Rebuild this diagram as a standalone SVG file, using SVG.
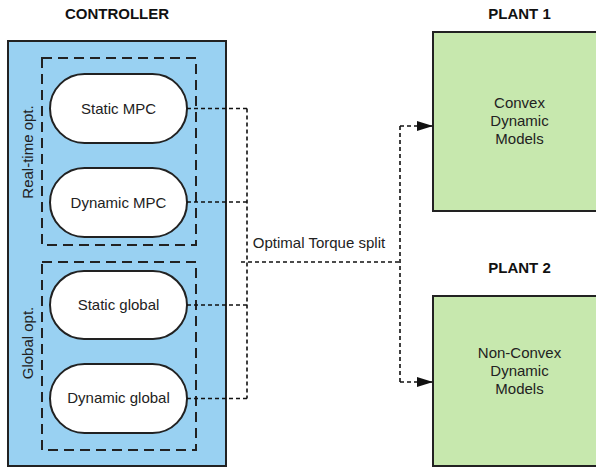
<svg xmlns="http://www.w3.org/2000/svg" width="596" height="467" viewBox="0 0 596 467">
  <style>
    text { font-family: "Liberation Sans", Arial, sans-serif; fill: #222; }
    .title { font-size: 15px; font-weight: bold; text-anchor: middle; fill: #111; }
    .lbl { font-size: 15px; text-anchor: middle; }
    .ctrl { fill: #99d1f2; stroke: #222; stroke-width: 2; }
    .group { fill: none; stroke: #222; stroke-width: 2; stroke-dasharray: 10 6; }
    .pill { fill: #fff; stroke: #222; stroke-width: 2; }
    .plant { fill: #c7e8ae; stroke: #222; stroke-width: 2; }
    .wire { fill: none; stroke: #111; stroke-width: 1.6; stroke-dasharray: 4 3; }
  </style>
  <defs>
    <marker id="arrow" viewBox="0 0 16 10" refX="16" refY="5" markerWidth="16" markerHeight="10" markerUnits="userSpaceOnUse" orient="auto">
      <path d="M0,0 L16,5 L0,10 Z" fill="#111"/>
    </marker>
  </defs>

  <rect width="596" height="467" fill="#fff"/>

  <!-- Controller block -->
  <g id="controller">
    <text class="title" x="117" y="19">CONTROLLER</text>
    <rect class="ctrl" x="8" y="41" width="218" height="425"/>
  </g>

  <g id="realtime-group">
    <rect class="group" x="42" y="58" width="154" height="187"/>
    <text class="lbl" transform="translate(33,152) rotate(-90)">Real-time opt.</text>
  </g>

  <g id="global-group">
    <rect class="group" x="42" y="262" width="154" height="188"/>
    <text class="lbl" transform="translate(33,343) rotate(-90)">Global opt.</text>
  </g>

  <g id="static-mpc">
    <rect class="pill" x="50" y="74" width="137" height="69" rx="34.5"/>
    <text class="lbl" x="118.5" y="113.5">Static MPC</text>
  </g>
  <g id="dynamic-mpc">
    <rect class="pill" x="50" y="168" width="137" height="69" rx="34.5"/>
    <text class="lbl" x="118.5" y="207.5">Dynamic MPC</text>
  </g>
  <g id="static-global">
    <rect class="pill" x="50" y="271" width="137" height="68" rx="34"/>
    <text class="lbl" x="118.5" y="310">Static global</text>
  </g>
  <g id="dynamic-global">
    <rect class="pill" x="50" y="364" width="137" height="69" rx="34.5"/>
    <text class="lbl" x="118.5" y="403">Dynamic global</text>
  </g>

  <!-- Plants -->
  <g id="plant1">
    <text class="title" x="519.5" y="19">PLANT 1</text>
    <rect class="plant" x="433" y="32" width="175" height="179"/>
    <text class="lbl" x="519.5" y="108">Convex</text>
    <text class="lbl" x="519.5" y="126">Dynamic</text>
    <text class="lbl" x="519.5" y="144">Models</text>
  </g>
  <g id="plant2">
    <text class="title" x="519.5" y="273">PLANT 2</text>
    <rect class="plant" x="433" y="296" width="175" height="170"/>
    <text class="lbl" x="519.5" y="358">Non-Convex</text>
    <text class="lbl" x="519.5" y="376">Dynamic</text>
    <text class="lbl" x="519.5" y="394">Models</text>
  </g>

  <!-- Connectors -->
  <g id="connectors">
    <path class="wire" d="M187,108.5 H247 M187,202 H247 M187,305 H247 M187,398.5 H247 M247,108.5 V398.5"/>
    <path class="wire" d="M241,262 H400 M400,126 V382"/>
    <path class="wire" d="M400,126 H433" marker-end="url(#arrow)"/>
    <path class="wire" d="M400,382 H433" marker-end="url(#arrow)"/>
    <text class="lbl" x="319" y="248">Optimal Torque split</text>
  </g>
</svg>
